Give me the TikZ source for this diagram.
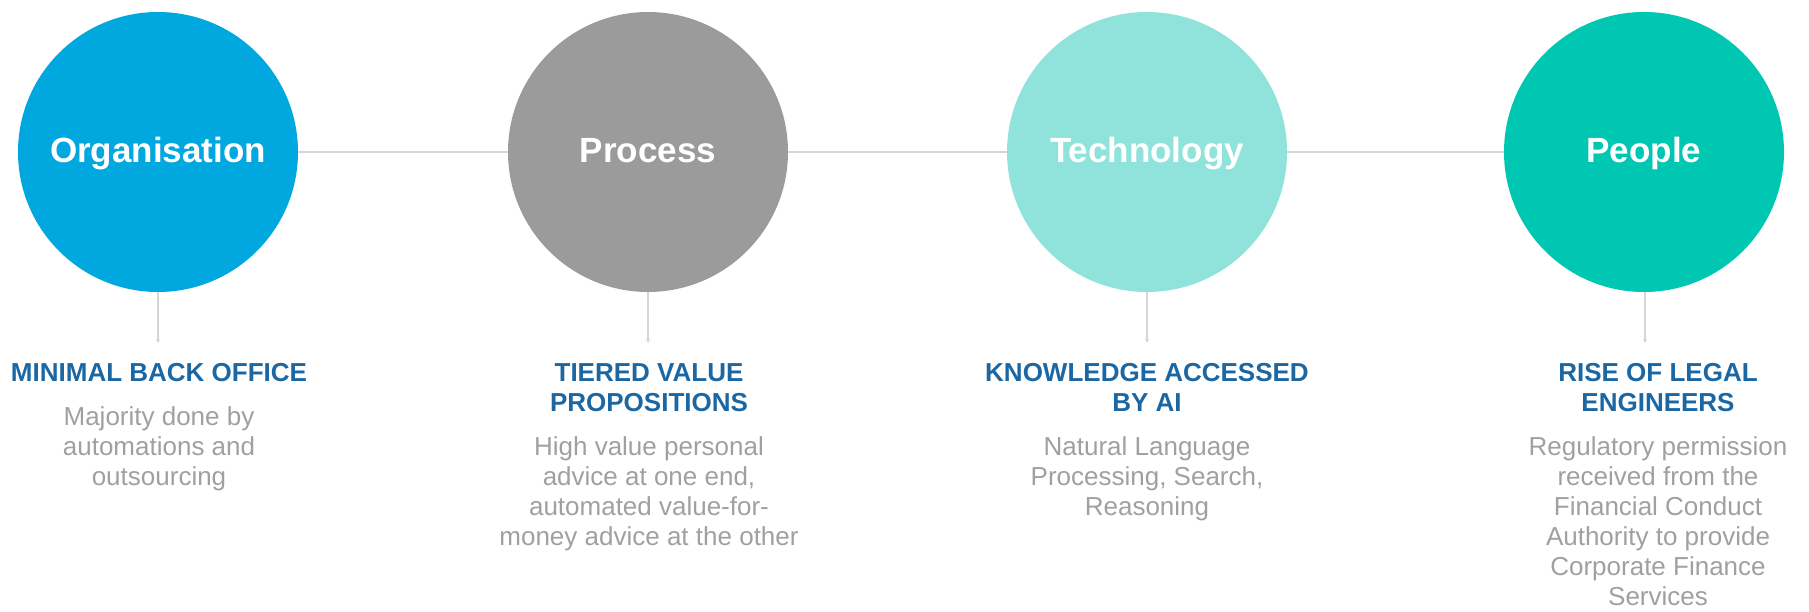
\documentclass[tikz,border=0pt]{standalone}
\usepackage{fontspec}
\setmainfont{Liberation Sans}
\usetikzlibrary{arrows.meta}
\definecolor{cOrg}{HTML}{00A8DF}
\definecolor{cProc}{HTML}{9B9B9B}
\definecolor{cTech}{HTML}{8FE3DA}
\definecolor{cPeop}{HTML}{00C7B2}
\definecolor{headblue}{HTML}{1A67A3}
\definecolor{bodygray}{HTML}{A0A0A0}
\definecolor{linegray}{HTML}{D6D6D6}
\tikzset{
  disc/.style={circle, minimum size=280pt, inner sep=0pt, text=white,
    font=\fontsize{35}{40}\selectfont\bfseries, text height=22pt, text depth=0pt},
  hline/.style={draw=linegray, line width=2pt},
  vline/.style={draw=linegray, line width=1.6pt, -{Stealth[length=4pt,width=4pt]}},
  headtxt/.style={anchor=north, align=center, inner sep=0pt, text=headblue,
    font=\fontsize{26}{30}\selectfont\bfseries},
  bodytxt/.style={anchor=north, align=center, inner sep=0pt, text=bodygray,
    font=\fontsize{26}{30}\selectfont},
}
\begin{document}
\begin{tikzpicture}[x=1pt,y=-1pt]
\useasboundingbox (0,0) rectangle (1809,612);
% circles
\node[disc, fill=cOrg]  (c1) at (158,152)  {Organisation};
\node[disc, fill=cProc] (c2) at (648,152)  {Process};
\node[disc, fill=cTech] (c3) at (1147,152) {Technology};
\node[disc, fill=cPeop] (c4) at (1644,152) {People};
% horizontal connectors
\draw[hline] (c1) -- (c2);
\draw[hline] (c2) -- (c3);
\draw[hline] (c3) -- (c4);
% vertical connector ends
\coordinate (e1) at (158,343);
\coordinate (e2) at (648,343);
\coordinate (e3) at (1147,343);
\coordinate (e4) at (1645,343);
\draw[vline] (c1.south) -- (e1);
\draw[vline] (c2.south) -- (e2);
\draw[vline] (c3.south) -- (e3);
\draw[vline] (c4.south -| e4) -- (e4);
% headings
\node[headtxt] (h1) at (159,363.4) {MINIMAL BACK OFFICE};
\node[headtxt] (h2) at (649,363.4) {TIERED VALUE\\PROPOSITIONS};
\node[headtxt] (h3) at (1147,363.4) {KNOWLEDGE ACCESSED\\BY AI};
\node[headtxt] (h4) at (1658,363.4) {RISE OF LEGAL\\ENGINEERS};
% bodies
\node[bodytxt] (b1) at (159,406.4) {Majority done by\\automations and\\outsourcing};
\node[bodytxt] (b2) at (649,436.4) {High value personal\\advice at one end,\\automated value-for-\\money advice at the other};
\node[bodytxt] (b3) at (1147,436.4) {Natural Language\\Processing, Search,\\Reasoning};
\node[bodytxt] (b4) at (1658,436.4) {Regulatory permission\\received from the\\Financial Conduct\\Authority to provide\\Corporate Finance\\Services};
\end{tikzpicture}
\end{document}
